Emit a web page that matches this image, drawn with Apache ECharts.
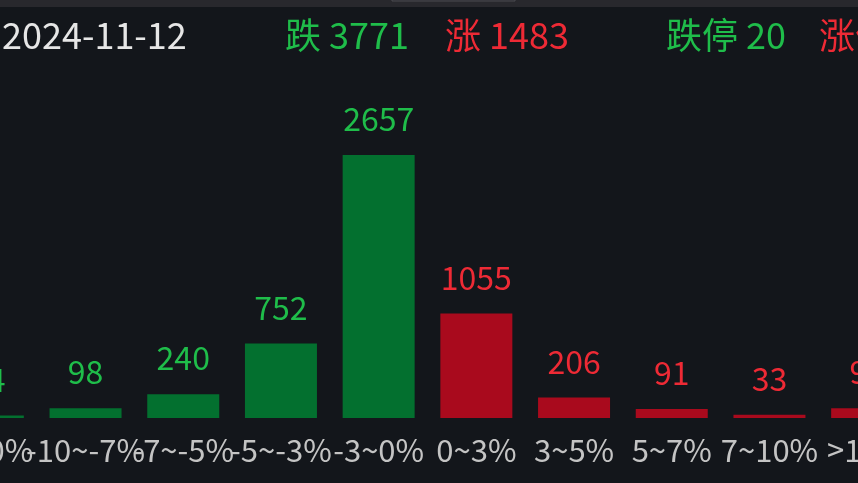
<!DOCTYPE html>
<html>
<head>
<meta charset="utf-8">
<script src="https://cdn.jsdelivr.net/npm/echarts@6/dist/echarts.min.js"></script>
<style>
html,body{margin:0;padding:0;background:#13161b;overflow:hidden;width:858px;height:483px;}
#c{width:977px;height:483px;margin-left:-61px;}
</style>
</head>
<body>
<div id="c"></div>
<script>
var categories = ['<-10%', '-10~-7%', '-7~-5%', '-5~-3%', '-3~0%', '0~3%', '3~5%', '5~7%', '7~10%', '>10%'];
var counts = [24, 98, 240, 752, 2657, 1055, 206, 91, 33, 98];
var isUp = [false, false, false, false, false, true, true, true, true, true];
var dateText = '2024-11-12';
var headerTexts = ['跌 3771', '涨 1483', '跌停 20', '涨停 58'];
var headerUp = [false, true, false, true];
var yTicks = [0, 3000];

var GREEN_BAR = '#03702f', RED_BAR = '#a90a1d';
var GREEN_TXT = '#1fbd4a', RED_TXT = '#ee2a35';
var FONT = '"Noto Sans CJK SC", "Noto Sans", sans-serif';
var OFF = 61;

var chart = echarts.init(document.getElementById('c'));
var headerX = [285, 445, 666, 819];
var graphics = [
  {type:'rect', shape:{x:0,y:0,width:977,height:7}, style:{fill:'#28282d'}, silent:true},
  {type:'rect', shape:{x:392+OFF,y:-3,width:123,height:4}, style:{fill:'#2b2b30', stroke:'#4a4a50', lineWidth:1}, silent:true},
  {type:'text', left:2+OFF, top:17, style:{text:dateText, fill:'#e6e6e6', font:'36px ' + FONT}}
];
headerTexts.forEach(function(t, i){
  graphics.push({type:'text', left:headerX[i]+OFF, top:17, style:{text:t, fill: headerUp[i] ? RED_TXT : GREEN_TXT, font:'36px ' + FONT}});
});

chart.setOption({
  backgroundColor:'#13161b',
  animation:false,
  graphic: graphics,
  grid:{left:0, right:0, top:121, bottom:65, containLabel:false},
  xAxis:{
    type:'category', data:categories,
    axisLine:{show:false}, axisTick:{show:false},
    axisLabel:{color:'#c4c4c4', fontSize:31, fontFamily:FONT, margin:17, interval:0}
  },
  yAxis:{
    type:'value', min:yTicks[0], max:yTicks[yTicks.length-1],
    show:false, splitLine:{show:false}
  },
  series:[{
    type:'bar', barWidth:72,
    data: counts.map(function(v, i){
      return {value:v, itemStyle:{color: isUp[i] ? RED_BAR : GREEN_BAR},
        label:{color: isUp[i] ? RED_TXT : GREEN_TXT}};
    }),
    label:{show:true, position:'top', distance:20, fontSize:32, fontFamily:FONT}
  }]
});
</script>
</body>
</html>
